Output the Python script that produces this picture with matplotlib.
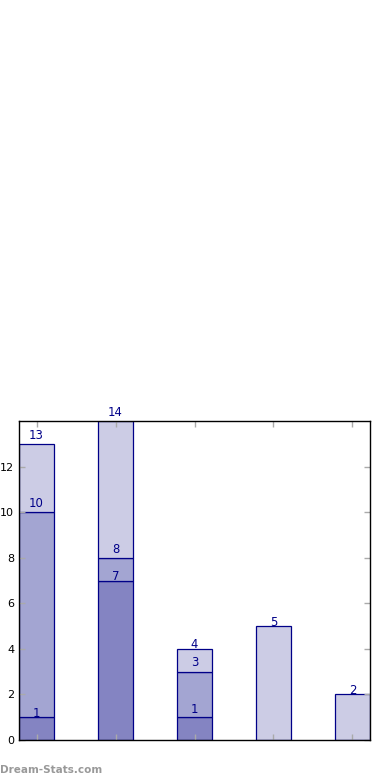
import matplotlib
matplotlib.use("Agg")
import matplotlib.pyplot as plt
import numpy as np

categories = ["A", "B", "C", "D", "E"]
seg1 = [1, 7, 1, 0, 0]
seg2 = [9, 1, 2, 0, 0]
seg3 = [3, 6, 1, 5, 2]
colors = ["#8484c2", "#a3a5d2", "#cccce5"]
edge = "#000088"

# label gap above segment top, in pixels (style nudges per segment level / bar)
label_gap_px = [
    [0, 0, 4.7, 0, 0],
    [5.5, 5, 5.5, 0, 0],
    [5, 4.5, 1, 0, 0],
]

fig = plt.figure(figsize=(3.9, 7.8), dpi=100)
ax = fig.add_axes([19/390, 40/780, 351/390, 319/780])

x = np.arange(len(categories))
w = 0.445
bottom = np.zeros(len(categories))
for k, (seg, c) in enumerate(zip([seg1, seg2, seg3], colors)):
    seg = np.array(seg, dtype=float)
    ax.bar(x, seg, w, bottom=bottom, color=c, edgecolor=edge, linewidth=0.9)
    top = bottom + seg
    for i, (xi, s, t) in enumerate(zip(x, seg, top)):
        if s > 0:
            ax.annotate(f"{int(t)}", (xi, t), xytext=(0, label_gap_px[k][i] * 0.72),
                        textcoords="offset points", ha="center", va="baseline",
                        fontsize=8.4, color=edge, annotation_clip=False)
    bottom = top

ax.set_xlim(-w/2, len(categories) - 1 + w/2)
ax.set_ylim(0, 14)
ax.set_xticks(x)
ax.set_xticklabels([])
ax.set_yticks(np.arange(0, 13, 2))
ax.tick_params(axis="both", direction="in", length=4, width=1, color="#aaaaaa",
               top=True, right=True, labelsize=8)
for sp in ax.spines.values():
    sp.set_linewidth(1)
    sp.set_color("black")

fig.text(0.0, 10/780, "Dream-Stats.com", fontsize=7.5, fontweight="bold",
         color="#999999", ha="left", va="center")

fig.savefig("out.png", dpi=100)
